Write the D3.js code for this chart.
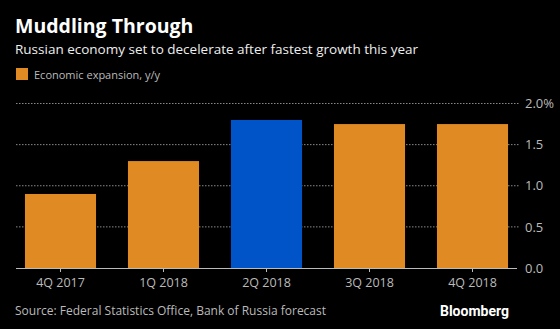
<!DOCTYPE html>
<html>
<head>
<meta charset="utf-8">
<script src="https://cdn.jsdelivr.net/npm/d3@7"></script>
<style>
  body { margin: 0; background: #000; }
  svg { display: block; font-family: "Open Sans", sans-serif; }
</style>
</head>
<body>
<div id="chart"></div>
<script>
var quarters = ["4Q 2017", "1Q 2018", "2Q 2018", "3Q 2018", "4Q 2018"];
var growth = [0.9, 1.3, 1.8, 1.75, 1.75];
var highlight = "2Q 2018";
var yTicks = [0, 0.5, 1.0, 1.5, 2.0];

var width = 560, height = 329;
var orange = "#e08a24", blue = "#0054c8";

var svg = d3.select("#chart")
	.append("svg")
	.attr("width", width)
	.attr("height", height);

svg.append("rect").attr("width", width).attr("height", height).attr("fill", "#000");

// header
svg.append("text")
	.attr("x", 15).attr("y", 33)
	.attr("fill", "#fff")
	.style("font-size", "19.5px").style("font-weight", "bold")
	.text("Muddling Through");

svg.append("text")
	.attr("x", 15).attr("y", 54)
	.attr("fill", "#eee")
	.style("font-size", "13.5px")
	.text("Russian economy set to decelerate after fastest growth this year");

svg.append("rect")
	.attr("x", 16).attr("y", 68).attr("width", 12).attr("height", 12)
	.attr("fill", orange);
svg.append("text")
	.attr("x", 34).attr("y", 79)
	.attr("fill", "#bbb")
	.style("font-size", "11px")
	.text("Economic expansion, y/y");

var x = d3.scaleBand()
	.domain(quarters)
	.range([16, 517])
	.paddingInner(0.31)
	.paddingOuter(0.087);

var y = d3.scaleLinear()
	.domain([0, 2])
	.range([268, 103.5]);

// dotted gridlines
svg.selectAll(".grid")
	.data(yTicks.filter(function(d) { return d > 0; }))
	.enter().append("line")
	.attr("class", "grid")
	.attr("x1", 16).attr("x2", 520)
	.attr("y1", function(d) { return y(d); })
	.attr("y2", function(d) { return y(d); })
	.attr("stroke", "#888")
	.attr("stroke-width", 1)
	.attr("stroke-dasharray", "1.5,1.5");

svg.selectAll(".bar")
	.data(growth)
	.enter().append("rect")
	.attr("class", "bar")
	.attr("x", function(d, i) { return x(quarters[i]); })
	.attr("width", x.bandwidth())
	.attr("y", function(d) { return y(d); })
	.attr("height", function(d) { return y(0) - y(d); })
	.attr("fill", function(d, i) { return quarters[i] === highlight ? blue : orange; });

// y axis on the right
var yAxis = svg.append("g")
	.attr("transform", "translate(519,0)")
	.call(d3.axisRight(y).tickValues(yTicks).tickSize(0).tickPadding(6)
		.tickFormat(function(d) { return d === 2 ? "2.0%" : d3.format(".1f")(d); }));
yAxis.select(".domain").remove();
yAxis.selectAll("text")
	.attr("fill", "#bbb")
	.style("font-size", "13px")
	.style("font-family", "'Open Sans', sans-serif");

// x axis
var xAxis = svg.append("g")
	.attr("transform", "translate(0,268)")
	.call(d3.axisBottom(x).tickSize(4).tickPadding(6));
xAxis.select(".domain")
	.attr("d", "M16,0.5H517")
	.attr("stroke", "#bbb");
xAxis.selectAll(".tick line").attr("stroke", "#bbb");
xAxis.selectAll("text")
	.attr("fill", "#bbb")
	.style("font-size", "12.5px")
	.style("font-family", "'Open Sans', sans-serif");

// footer
svg.append("text")
	.attr("x", 15).attr("y", 315)
	.attr("fill", "#bbb")
	.style("font-size", "12px")
	.text("Source: Federal Statistics Office, Bank of Russia forecast");

svg.append("text")
	.attr("x", 509).attr("y", 316)
	.attr("text-anchor", "end")
	.attr("fill", "#fff")
	.style("font-size", "14px").style("font-weight", "bold")
	.style("font-family", "Roboto, sans-serif")
	.text("Bloomberg");
</script>
</body>
</html>
